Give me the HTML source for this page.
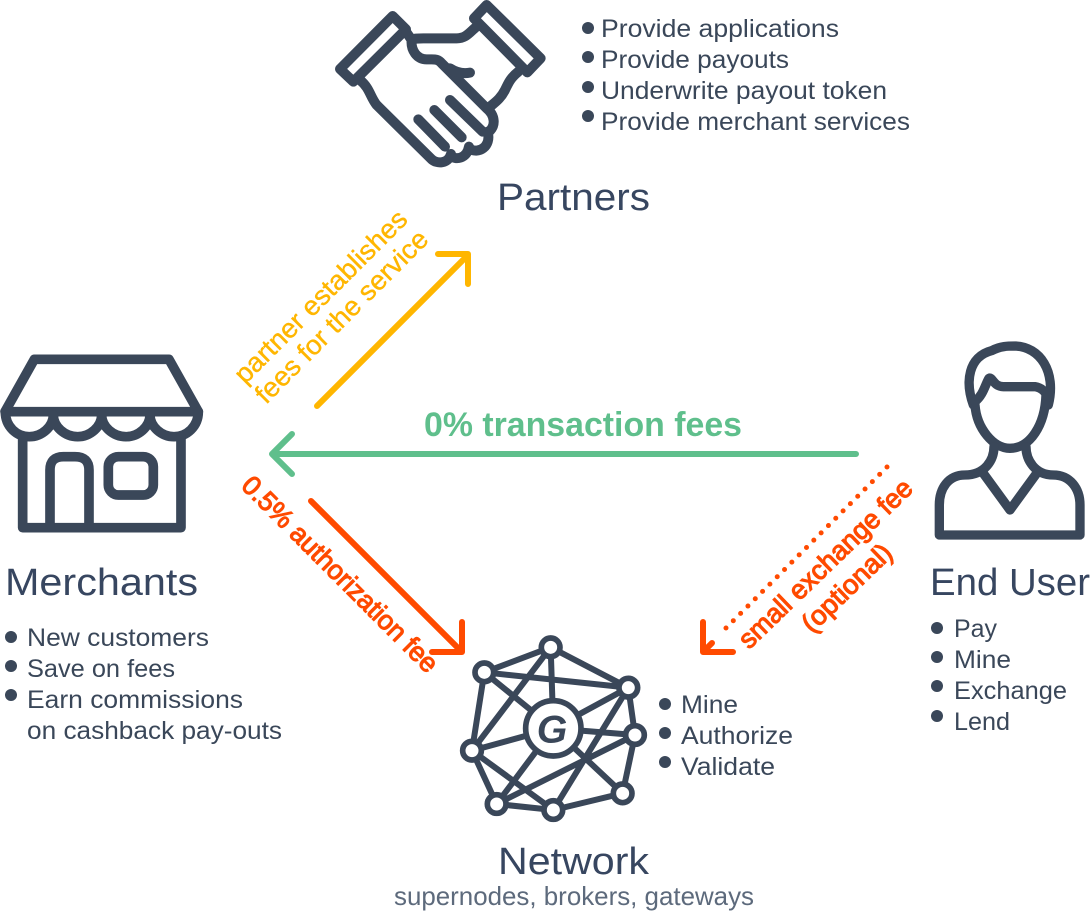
<!DOCTYPE html>
<html><head><meta charset="utf-8"><style>
html,body{margin:0;padding:0;background:#fff;width:1092px;height:911px;overflow:hidden}
svg{display:block}
text{font-family:"Liberation Sans",sans-serif}
.t{fill:#3a4759;font-size:25px}
.h{fill:#374660;font-size:38px}
.ic{fill:none;stroke:#3a4759;stroke-linecap:round;stroke-linejoin:round}
</style></head><body>
<svg width="1092" height="911" viewBox="0 0 1092 911" xmlns="http://www.w3.org/2000/svg">
<!-- handshake -->
<g class="ic" transform="translate(320,0) scale(.3333)" stroke-width="30">
<path d="M60,207L218,48L258,88L100,245Z"/>
<path d="M462,55L500,15L662,175L622,217Z"/>
<path d="M120,240C150,265 150,290 170,315L335,478C350,492 385,492 393,462"/>
<path d="M393,468C405,480 440,478 447,440"/>
<path d="M447,445C475,465 515,440 503,395"/>
<path d="M503,398C530,380 525,345 500,325L365,190C355,178 345,178 335,178L320,178C290,178 272,150 275,120L258,95"/>
<path d="M275,118C285,115 295,115 310,115L410,115C440,115 450,95 470,80"/>
<path d="M390,205C410,218 430,222 450,218"/>
<path d="M595,215C570,235 565,250 555,270C540,300 520,310 505,325"/>
<path d="M295,358L375,440M343,330L425,412M390,300L488,395"/>
</g>
<!-- store -->
<g class="ic" transform="translate(0,340) scale(.3333)" stroke-width="29">
<path d="M103,58L507,58L595,215L15,215Z"/>
<path d="M16,215C16,260 50,290 88,290C125,290 160,260 160,225C160,260 195,290 233,290C270,290 305,260 305,225C305,260 340,290 378,290C415,290 450,260 450,225C450,260 485,290 522,290C560,290 595,260 595,215"/>
<path d="M68,290L68,563L543,563L543,290"/>
<path d="M150,563L150,390Q150,350 190,350L225,350Q267,350 267,390L267,563"/>
<rect x="325" y="350" width="135" height="115" rx="30"/>
</g>
<!-- network -->
<g transform="translate(450,625) scale(.3333)">
<g fill="none" stroke="#3a4759" stroke-width="18">
<path d="M302,67L103,142M302,67L535,188M103,142L535,188M103,142L66,377M302,67L66,377M302,67L310,310M103,142L310,310M535,188L555,330M535,188L310,310M535,188L310,555M555,330L310,310M555,330L140,537M555,330L518,505M66,377L310,310M66,377L140,537M66,377L310,555M140,537L310,310M140,537L310,555M310,555L518,505M518,505L310,310"/>
</g>
<g fill="#fff" stroke="#3a4759" stroke-width="17">
<circle cx="302" cy="67" r="28"/><circle cx="103" cy="142" r="28"/><circle cx="535" cy="188" r="28"/><circle cx="555" cy="330" r="28"/><circle cx="66" cy="377" r="28"/><circle cx="518" cy="505" r="28"/><circle cx="140" cy="537" r="28"/><circle cx="310" cy="555" r="28"/>
<circle cx="310" cy="310" r="83"/>
</g>
<text x="306" y="352" text-anchor="middle" font-size="118" font-weight="bold" font-style="italic" fill="#3a4759">G</text>
</g>
<!-- user -->
<g class="ic" transform="translate(920,335) scale(.3333)" stroke-width="28">
<path d="M160,210C135,140 145,65 215,47C240,33 265,33 285,33C360,35 410,110 385,210"/>
<path d="M165,210C170,280 220,340 270,340C330,340 375,270 378,180"/>
<path d="M165,200C190,180 195,150 207,130C218,125 220,155 250,155L345,155C365,158 375,170 385,185"/>
<path d="M222,335C222,375 195,420 135,420C85,420 58,460 58,510L58,600L480,600L480,510C480,460 450,420 400,420C345,420 318,375 318,335"/>
<path d="M190,415L270,525L350,415"/>
</g>
<!-- arrows -->
<g fill="none" stroke-linecap="round" stroke-linejoin="round">
<path d="M317,406L468,255M438,254H468V284" stroke="#ffb600" stroke-width="6"/>
<path d="M856,454H272M292,434L272,454L292,474" stroke="#5fbf8c" stroke-width="6"/>
<path d="M311,501L462,652M462,622V652H432" stroke="#ff4a00" stroke-width="6"/>
<path d="M703,622V652H733M703,652L712,643" stroke="#ff4a00" stroke-width="6"/>
<path d="M887,467L721,633" stroke="#ff4a00" stroke-width="5" stroke-dasharray="0 10.35"/>
</g>
<!-- arrow labels -->
<text x="424" y="436" font-size="34" font-weight="bold" fill="#5fbf8c" textLength="318" lengthAdjust="spacingAndGlyphs">0% transaction fees</text>
<g fill="#ffb600" stroke="#ffb600" stroke-width=".4" font-size="27">
<text transform="translate(245,385) rotate(-45)" textLength="232" lengthAdjust="spacingAndGlyphs">partner establishes</text>
<text transform="translate(266,405) rotate(-45)" textLength="232" lengthAdjust="spacingAndGlyphs">fees for the service</text>
</g>
<g fill="#ff4a00" stroke="#ff4a00" stroke-width="1.1" font-size="27">
<text transform="translate(240,487) rotate(45)" textLength="265" lengthAdjust="spacingAndGlyphs">0.5% authorization fee</text>
<text transform="translate(749,650) rotate(-44)" textLength="230" lengthAdjust="spacingAndGlyphs">small exchange fee</text>
<text transform="translate(812,634) rotate(-44)" textLength="114" lengthAdjust="spacingAndGlyphs">(optional)</text>
</g>
<!-- headings -->
<text class="h" x="497" y="210" textLength="153" lengthAdjust="spacingAndGlyphs">Partners</text>
<text class="h" x="5" y="595" textLength="193" lengthAdjust="spacingAndGlyphs">Merchants</text>
<text class="h" x="930" y="595" textLength="160" lengthAdjust="spacingAndGlyphs">End User</text>
<text class="h" x="498" y="874" textLength="151" lengthAdjust="spacingAndGlyphs">Network</text>
<text x="394" y="905" font-size="26" fill="#5d6a7c" textLength="360" lengthAdjust="spacingAndGlyphs">supernodes, brokers, gateways</text>
<!-- bullets -->
<g fill="#3a4759">
<circle cx="588" cy="28" r="6"/><circle cx="588" cy="57" r="6"/><circle cx="588" cy="87" r="6"/><circle cx="588" cy="116" r="6"/>
<circle cx="11" cy="637" r="6"/><circle cx="11" cy="666" r="6"/><circle cx="11" cy="695" r="6"/>
<circle cx="665" cy="704" r="6"/><circle cx="665" cy="733" r="6"/><circle cx="665" cy="762" r="6"/>
<circle cx="937" cy="628" r="6"/><circle cx="937" cy="657" r="6"/><circle cx="937" cy="686" r="6"/><circle cx="937" cy="716" r="6"/>
</g>
<!-- lists -->
<g class="t">
<text x="601" y="37" textLength="238" lengthAdjust="spacingAndGlyphs">Provide applications</text>
<text x="601" y="68" textLength="188" lengthAdjust="spacingAndGlyphs">Provide payouts</text>
<text x="601" y="99" textLength="286" lengthAdjust="spacingAndGlyphs">Underwrite payout token</text>
<text x="601" y="130" textLength="309" lengthAdjust="spacingAndGlyphs">Provide merchant services</text>
<text x="27" y="646" textLength="182" lengthAdjust="spacingAndGlyphs">New customers</text>
<text x="27" y="677" textLength="148" lengthAdjust="spacingAndGlyphs">Save on fees</text>
<text x="27" y="708" textLength="216" lengthAdjust="spacingAndGlyphs">Earn commissions</text>
<text x="27" y="739" textLength="255" lengthAdjust="spacingAndGlyphs">on cashback pay-outs</text>
<text x="681" y="713" textLength="57" lengthAdjust="spacingAndGlyphs">Mine</text>
<text x="681" y="744" textLength="112" lengthAdjust="spacingAndGlyphs">Authorize</text>
<text x="681" y="775" textLength="94" lengthAdjust="spacingAndGlyphs">Validate</text>
<text x="954" y="637" textLength="43" lengthAdjust="spacingAndGlyphs">Pay</text>
<text x="954" y="668" textLength="57" lengthAdjust="spacingAndGlyphs">Mine</text>
<text x="954" y="699" textLength="113" lengthAdjust="spacingAndGlyphs">Exchange</text>
<text x="954" y="730" textLength="56" lengthAdjust="spacingAndGlyphs">Lend</text>
</g>
</svg>
</body></html>
